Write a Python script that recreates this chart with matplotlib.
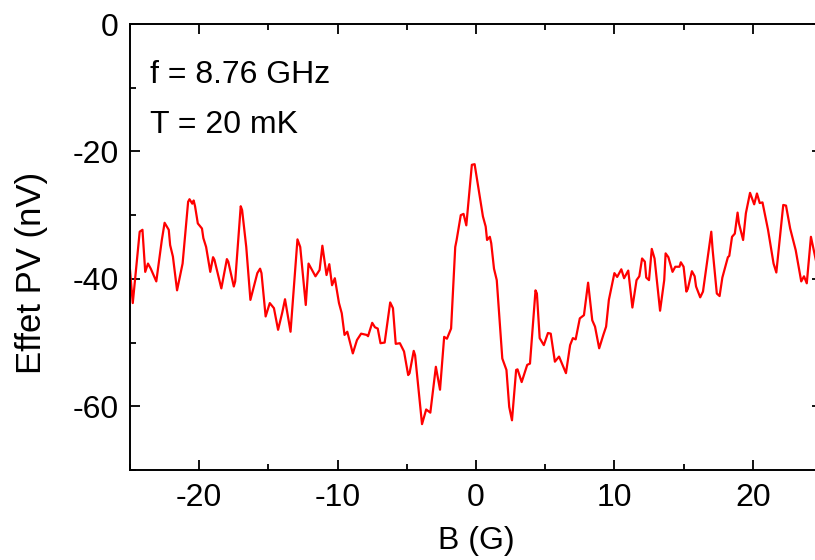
import matplotlib
matplotlib.use("Agg")
import matplotlib.pyplot as plt
from matplotlib.ticker import MultipleLocator

plt.rcParams["font.family"] = ["Liberation Sans", "DejaVu Sans"]
plt.rcParams["axes.unicode_minus"] = False

# B field (G) and photovoltage signal (nV)
b_field = [
    -25.0, -24.8, -24.3, -24.1, -23.9, -23.7, -23.5, -23.1, -22.7, -22.5,
    -22.2, -22.1, -21.9, -21.6, -21.3, -21.2, -20.8, -20.7, -20.5, -20.4,
    -20.3, -20.1, -19.8, -19.7, -19.5, -19.2, -19.0, -18.9, -18.4, -18.0,
    -17.9, -17.5, -17.4, -17.0, -16.9, -16.6, -16.3, -15.8, -15.6, -15.5,
    -15.2, -14.9, -14.6, -14.3, -14.0, -13.8, -13.5, -13.4, -12.9, -12.7,
    -12.3, -12.1, -11.6, -11.3, -11.1, -10.8, -10.6, -10.4, -10.2, -9.9,
    -9.7, -9.5, -9.3, -8.9, -8.6, -8.3, -7.9, -7.8, -7.5, -7.3,
    -7.1, -6.9, -6.6, -6.2, -6.0, -5.8, -5.5, -5.2, -4.9, -4.8,
    -4.5, -4.4, -3.9, -3.6, -3.3, -2.9, -2.6, -2.3, -2.1, -1.8,
    -1.5, -1.4, -1.1, -0.9, -0.7, -0.3, -0.1, 0.2, 0.5, 0.7,
    0.8, 1.0, 1.1, 1.3, 1.5, 1.9, 2.2, 2.4, 2.6, 2.9,
    3.0, 3.3, 3.7, 3.9, 4.3, 4.4, 4.6, 4.9, 5.2, 5.4,
    5.7, 6.0, 6.5, 6.8, 7.0, 7.2, 7.5, 7.8, 8.1, 8.4,
    8.6, 8.9, 9.2, 9.4, 9.6, 10.0, 10.2, 10.5, 10.7, 11.0,
    11.3, 11.6, 11.8, 12.0, 12.2, 12.3, 12.5, 12.7, 12.9, 13.3,
    13.6, 13.7, 13.9, 14.2, 14.4, 14.7, 14.8, 15.0, 15.2, 15.3,
    15.6, 15.8, 15.9, 16.2, 16.4, 17.0, 17.1, 17.4, 17.6, 17.8,
    18.2, 18.3, 18.5, 18.7, 18.9, 19.0, 19.3, 19.5, 19.8, 20.1,
    20.3, 20.5, 20.7, 21.1, 21.5, 21.7, 22.2, 22.4, 22.7, 23.1,
    23.5, 23.7, 23.9, 24.2, 24.5, 24.8,
]
pv_signal = [
    -38.6, -43.8, -32.6, -32.3, -38.9, -37.6, -38.4, -40.4, -33.9, -31.2,
    -32.3, -34.7, -36.5, -41.8, -38.6, -37.6, -27.9, -27.5, -28.2, -27.7,
    -28.6, -31.3, -32.1, -33.6, -35.0, -38.9, -36.6, -37.0, -41.5, -36.9,
    -37.3, -41.2, -40.4, -28.6, -29.2, -35.0, -43.3, -39.1, -38.4, -39.1,
    -45.9, -43.8, -44.6, -48.0, -45.3, -43.2, -47.0, -48.3, -33.8, -35.0,
    -44.1, -37.6, -39.6, -38.6, -34.8, -39.4, -37.7, -41.0, -39.9, -43.8,
    -45.4, -48.8, -48.3, -51.7, -49.6, -48.6, -48.8, -49.0, -46.9, -47.6,
    -47.8, -50.1, -50.0, -43.7, -44.6, -50.2, -50.1, -51.4, -55.1, -54.8,
    -51.3, -52.0, -62.8, -60.5, -61.0, -53.8, -57.4, -49.1, -49.4, -47.8,
    -35.0, -33.9, -30.0, -29.8, -31.6, -22.1, -22.0, -26.1, -30.2, -31.8,
    -33.9, -33.4, -34.4, -38.4, -40.2, -52.5, -54.3, -60.1, -62.2, -54.3,
    -54.2, -56.2, -53.5, -53.3, -41.8, -42.3, -49.3, -50.4, -48.5, -48.6,
    -53.0, -52.2, -54.8, -50.4, -49.3, -49.5, -46.2, -45.7, -40.6, -46.5,
    -47.5, -50.9, -48.8, -47.5, -43.3, -39.1, -39.7, -38.5, -39.9, -38.7,
    -44.5, -40.2, -39.6, -36.8, -37.3, -39.8, -40.2, -35.3, -36.8, -45.0,
    -40.2, -36.0, -36.6, -38.9, -38.1, -38.1, -37.4, -38.1, -42.0, -41.6,
    -38.8, -39.6, -41.2, -42.9, -42.0, -32.6, -35.5, -42.3, -42.7, -39.8,
    -36.6, -36.4, -33.4, -32.9, -29.6, -31.3, -33.9, -29.7, -26.5, -28.3,
    -26.6, -28.1, -28.0, -32.3, -37.6, -39.0, -28.4, -28.5, -32.1, -35.5,
    -40.4, -39.6, -40.7, -33.4, -36.5, -39.5,
]

x_ticks = [-20, -10, 0, 10, 20]
y_ticks = [0, -20, -40, -60]

FS = 23

fig = plt.figure(figsize=(8.15, 5.6), dpi=100)
# axes run slightly past the right edge of the figure, as in the reference
ax = fig.add_axes([130 / 815, 90 / 560, 692 / 815, 446 / 560])

ax.plot(b_field, pv_signal, color="#ff0000", linewidth=1.6)

ax.set_xlim(-25, 25)
ax.set_ylim(-70, 0)
ax.set_xticks(x_ticks)
ax.set_yticks(y_ticks)
ax.xaxis.set_minor_locator(MultipleLocator(5))
ax.yaxis.set_minor_locator(MultipleLocator(10))

for side in ax.spines.values():
    side.set_linewidth(1.4)
ax.tick_params(which="both", direction="in", top=True, right=True,
               width=1.3, labelsize=FS)
ax.tick_params(axis="x", pad=9)
ax.tick_params(axis="y", pad=8)
ax.tick_params(which="major", length=7)
ax.tick_params(which="minor", length=4.5)

ax.set_xlabel("B (G)", fontsize=FS)
ax.set_ylabel("Effet PV (nV)", fontsize=25)
ax.xaxis.set_label_coords(0.5, -0.125)
ax.yaxis.set_label_coords(-0.118, 0.442)

ax.text(0.029, 0.868, "f = 8.76 GHz", transform=ax.transAxes,
        fontsize=FS, va="baseline", ha="left")
ax.text(0.029, 0.756, "T = 20 mK", transform=ax.transAxes,
        fontsize=FS, va="baseline", ha="left")

fig.savefig("out.png", dpi=100)
plt.close(fig)
